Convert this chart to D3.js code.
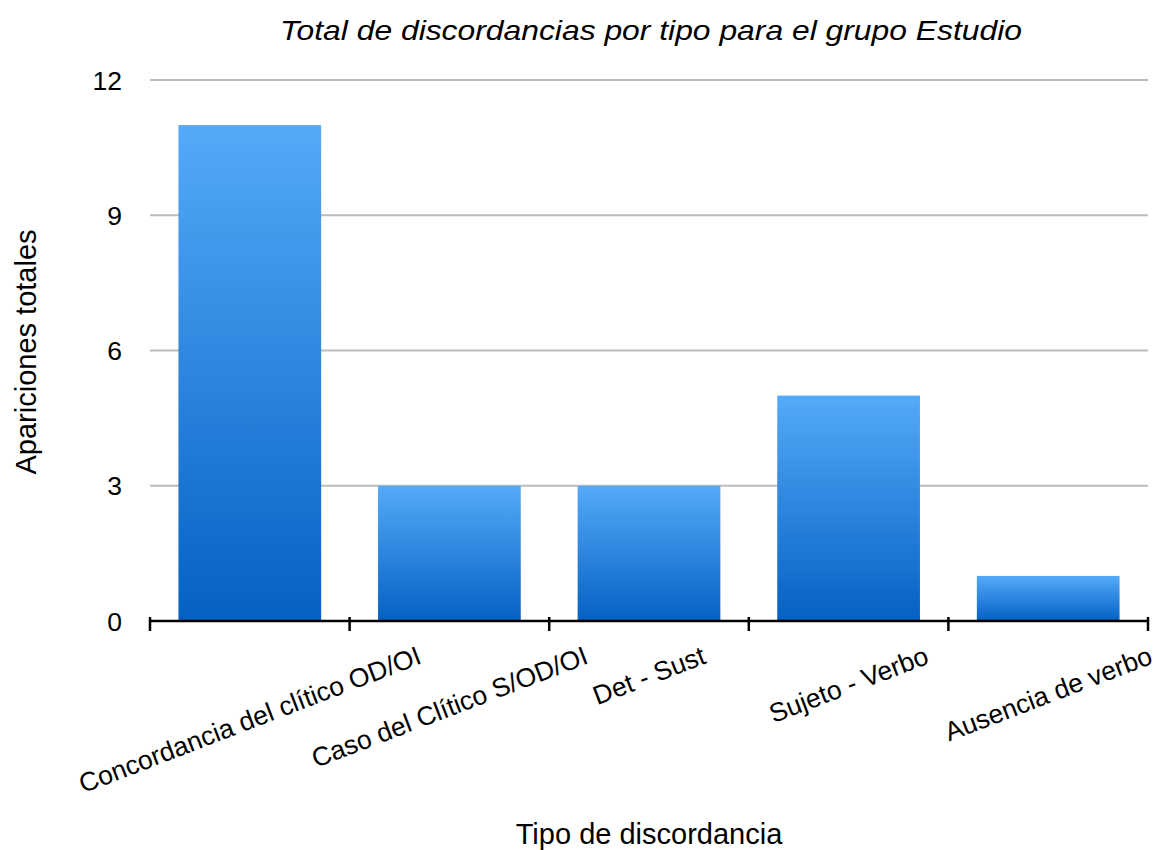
<!DOCTYPE html>
<html>
<head>
<meta charset="utf-8">
<script src="https://cdn.jsdelivr.net/npm/d3@7"></script>
<style>
  html, body { margin: 0; padding: 0; background: #fff; }
  svg { display: block; font-family: "Liberation Sans", Arial, Helvetica, sans-serif; }
</style>
</head>
<body>
<svg id="chart" width="1158" height="850"></svg>
<script>
// Discordance types and their total counts for the study group
const categories = [
  "Concordancia del clítico OD/OI",
  "Caso del Clítico S/OD/OI",
  "Det - Sust",
  "Sujeto - Verbo",
  "Ausencia de verbo"
];
const values = [11, 3, 3, 5, 1];
const yTicks = [0, 3, 6, 9, 12];

const title = "Total de discordancias por tipo para el grupo Estudio";
const xTitle = "Tipo de discordancia";
const yTitle = "Apariciones totales";

const W = 1158, H = 850;
const margin = { top: 80, right: 10, bottom: 229, left: 150 };
const innerW = W - margin.left - margin.right;
const innerH = H - margin.top - margin.bottom;

const svg = d3.select("#chart");

const defs = svg.append("defs");
const grad = defs.append("linearGradient")
  .attr("id", "barFill")
  .attr("x1", 0).attr("y1", 0).attr("x2", 0).attr("y2", 1);
grad.append("stop").attr("offset", "0%").attr("stop-color", "#55aaf9");
grad.append("stop").attr("offset", "100%").attr("stop-color", "#0461c3");

const g = svg.append("g").attr("transform", `translate(${margin.left},${margin.top})`);

const x = d3.scaleBand()
  .domain(categories)
  .range([0, innerW])
  .paddingInner(0.285)
  .paddingOuter(0.1425);

const y = d3.scaleLinear().domain([0, 12]).range([innerH, 0]);

// Horizontal gridlines
g.append("g")
  .selectAll("line")
  .data(yTicks.filter(d => d > 0))
  .join("line")
  .attr("x1", 0).attr("x2", innerW)
  .attr("y1", d => y(d)).attr("y2", d => y(d))
  .attr("stroke", "#bcbcbc")
  .attr("stroke-width", 2);

// Y tick labels
g.append("g")
  .selectAll("text")
  .data(yTicks)
  .join("text")
  .attr("x", -28)
  .attr("y", d => y(d))
  .attr("dy", "0.36em")
  .attr("text-anchor", "end")
  .attr("font-size", 26.5)
  .attr("fill", "#000")
  .text(d => d);

// Bars
g.append("g")
  .selectAll("rect")
  .data(categories)
  .join("rect")
  .attr("x", d => x(d))
  .attr("y", (d, i) => y(values[i]))
  .attr("width", x.bandwidth())
  .attr("height", (d, i) => innerH - y(values[i]))
  .attr("fill", "url(#barFill)");

// Baseline with category separator ticks
const step = x.step();
const boundaries = d3.range(categories.length + 1).map(i => i * step);
const axisG = g.append("g").attr("transform", `translate(0,${innerH})`);
axisG.append("line")
  .attr("x1", 0).attr("x2", innerW)
  .attr("y1", 0).attr("y2", 0)
  .attr("stroke", "#000")
  .attr("stroke-width", 2.5);
axisG.selectAll("line.tick")
  .data(boundaries)
  .join("line")
  .attr("class", "tick")
  .attr("x1", d => d).attr("x2", d => d)
  .attr("y1", -4).attr("y2", 10)
  .attr("stroke", "#000")
  .attr("stroke-width", 2.5);

// Rotated category labels, centred on each band, top edge aligned
const angle = -21;
const rad = Math.abs(angle) * Math.PI / 180;
const labelTop = 24;
const fs = 26.5;
axisG.selectAll("text.cat")
  .data(categories)
  .join("text")
  .attr("class", "cat")
  .attr("font-size", fs)
  .attr("fill", "#000")
  .attr("text-anchor", "middle")
  .attr("dy", "0.35em")
  .text(d => d)
  .each(function(d) {
    const w = this.getComputedTextLength();
    const cx = x(d) + x.bandwidth() / 2;
    const cy = labelTop + (w / 2) * Math.sin(rad) + (fs * 0.75 / 2) * Math.cos(rad);
    d3.select(this).attr("transform", `translate(${cx},${cy}) rotate(${angle})`);
  });

// Title
svg.append("text")
  .attr("x", 651)
  .attr("y", 40)
  .attr("text-anchor", "middle")
  .attr("font-size", 28)
  .attr("font-style", "italic")
  .attr("textLength", 742)
  .attr("lengthAdjust", "spacingAndGlyphs")
  .attr("fill", "#000")
  .text(title);

// X axis title
svg.append("text")
  .attr("x", 649)
  .attr("y", 844)
  .attr("text-anchor", "middle")
  .attr("font-size", 29)
  .attr("fill", "#000")
  .text(xTitle);

// Y axis title
svg.append("text")
  .attr("transform", "translate(36,352) rotate(-90)")
  .attr("text-anchor", "middle")
  .attr("font-size", 29)
  .attr("fill", "#000")
  .text(yTitle);
</script>
</body>
</html>
